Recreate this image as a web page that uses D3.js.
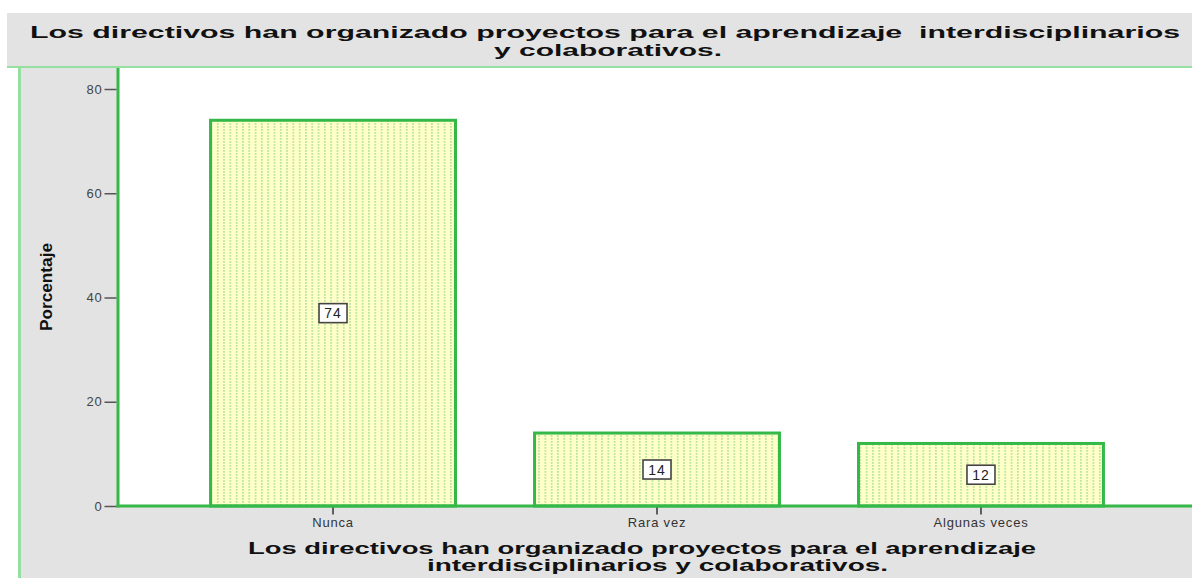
<!DOCTYPE html>
<html><head><meta charset="utf-8">
<script src="https://cdn.jsdelivr.net/npm/d3@7"></script>
<style>
html,body{margin:0;padding:0;background:#fff;}
svg{display:block;font-family:"Liberation Sans",Arial,sans-serif;}
</style></head>
<body><svg id="c" width="1192" height="578"></svg>
<script>
const categories = ["Nunca", "Rara vez", "Algunas veces"];
const values = [74, 14, 12];
const yTicks = [0, 20, 40, 60, 80];
const titleLines = ["Los directivos han organizado proyectos para el aprendizaje  interdisciplinarios", "y colaborativos."];
const xTitleLines = ["Los directivos han organizado proyectos para el aprendizaje", "interdisciplinarios y colaborativos."];
const yTitle = "Porcentaje";

const svg = d3.select("#c");
const W = 1192, H = 578;
const plot = {l: 118, r: 1196, t: 68, b: 506};
const green = "#34b847", lightGreen = "#95dfa0", gray = "#e3e3e3";

const defs = svg.append("defs");
const pat = defs.append("pattern").attr("id","dots").attr("patternUnits","userSpaceOnUse")
  .attr("width",6.3).attr("height",3);
pat.append("rect").attr("width",6.3).attr("height",3).attr("fill","#ffffc8");
pat.append("rect").attr("x",3).attr("y",0).attr("width",1.1).attr("height",1.8).attr("fill","#8fd690");

// backgrounds
svg.append("rect").attr("x",18).attr("y",67).attr("width",W-18).attr("height",H-67).attr("fill",gray);
svg.append("rect").attr("x",7).attr("y",13).attr("width",W-7).attr("height",54).attr("fill",gray);
svg.append("line").attr("x1",7).attr("x2",W).attr("y1",67).attr("y2",67).attr("stroke",lightGreen).attr("stroke-width",2);
svg.append("line").attr("x1",19.5).attr("x2",19.5).attr("y1",67).attr("y2",H).attr("stroke",lightGreen).attr("stroke-width",3);
svg.append("rect").attr("x",plot.l).attr("y",plot.t).attr("width",plot.r-plot.l).attr("height",plot.b-plot.t).attr("fill","#fff");

const x = d3.scaleBand().domain(categories).range([plot.l, plot.r]).paddingInner(0.244).paddingOuter(0.2857);
const y = d3.scaleLinear().domain([0, 80]).range([plot.b, 89]);

// bars
const bars = svg.append("g");
bars.selectAll("rect").data(categories).join("rect")
  .attr("x", d => x(d)).attr("y", (d,i) => y(values[i]))
  .attr("width", x.bandwidth()).attr("height", (d,i) => y(0) - y(values[i]))
  .attr("fill","url(#dots)").attr("stroke",green).attr("stroke-width",3);

// axes
svg.append("line").attr("x1",plot.l).attr("x2",plot.l).attr("y1",plot.t).attr("y2",plot.b+1.5).attr("stroke",green).attr("stroke-width",3);
svg.append("line").attr("x1",plot.l-1.5).attr("x2",W).attr("y1",plot.b).attr("y2",plot.b).attr("stroke",green).attr("stroke-width",3);

const yAxis = svg.append("g").attr("transform",`translate(${plot.l-1.5},0)`)
  .call(d3.axisLeft(y).tickValues(yTicks).tickSize(12).tickPadding(2));
yAxis.select(".domain").remove();
yAxis.selectAll(".tick line").attr("stroke","#555").attr("stroke-width",1.5);
yAxis.selectAll(".tick text").attr("font-size",13).attr("fill","#444").attr("font-family","Liberation Sans, Arial")
  .attr("letter-spacing",0.8);

const xAxis = svg.append("g").attr("transform",`translate(0,${plot.b+1.5})`)
  .call(d3.axisBottom(x).tickSize(7).tickPadding(3));
xAxis.select(".domain").remove();
xAxis.selectAll(".tick line").attr("stroke","#333").attr("stroke-width",1.5);
xAxis.selectAll(".tick text").attr("font-size",13).attr("fill","#333").attr("font-family","Liberation Sans, Arial")
  .attr("letter-spacing",0.8);

// value labels
const lab = svg.append("g");
categories.forEach((c,i) => {
  const cx = x(c) + x.bandwidth()/2, cy = y(values[i]/2);
  const g = lab.append("g").attr("transform",`translate(${cx},${cy})`);
  g.append("rect").attr("x",-14).attr("y",-9.5).attr("width",28).attr("height",19)
    .attr("fill","#fff").attr("stroke","#444").attr("stroke-width",1.6);
  g.append("text").attr("text-anchor","middle").attr("y",5).attr("font-size",14)
    .attr("fill","#222").attr("letter-spacing",1).text(values[i]);
});

// titles
const tt = svg.append("g").attr("font-weight","bold").attr("fill","#111");
tt.append("text").attr("x",30).attr("y",38).attr("font-size",17).style("white-space","pre")
  .attr("xml:space","preserve")
  .attr("textLength",1150).attr("lengthAdjust","spacingAndGlyphs").text(titleLines[0]);
tt.append("text").attr("x",494).attr("y",56).attr("font-size",17)
  .attr("textLength",228).attr("lengthAdjust","spacingAndGlyphs").text(titleLines[1]);

const xt = svg.append("g").attr("font-weight","bold").attr("fill","#111");
xt.append("text").attr("x",248).attr("y",554).attr("font-size",16)
  .attr("textLength",788).attr("lengthAdjust","spacingAndGlyphs").text(xTitleLines[0]);
xt.append("text").attr("x",427).attr("y",571).attr("font-size",16)
  .attr("textLength",461).attr("lengthAdjust","spacingAndGlyphs").text(xTitleLines[1]);

svg.append("text").attr("transform","translate(52,287) rotate(-90)").attr("text-anchor","middle")
  .attr("font-size",17).attr("font-weight","bold").attr("fill","#111")
  .attr("textLength",88).attr("lengthAdjust","spacingAndGlyphs").text(yTitle);
</script></body></html>
